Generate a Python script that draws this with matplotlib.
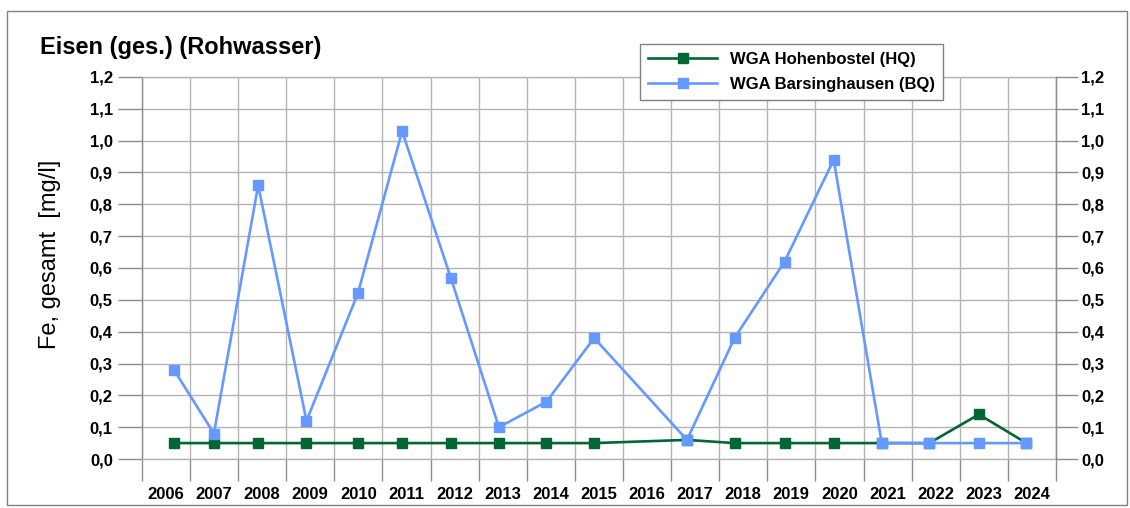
import datetime as dt
import matplotlib
matplotlib.use("Agg")
import matplotlib.pyplot as plt
import matplotlib.dates as mdates
from matplotlib.patches import Rectangle

plt.rcParams['font.family'] = ['Liberation Sans', 'DejaVu Sans']

# ---- data ----
dates_hq = ["2006-09-01", "2007-07-01", "2008-06-01", "2009-06-03", "2010-06-28",
            "2011-05-30", "2012-06-02", "2013-06-03", "2014-05-30", "2015-05-27",
            "2017-05-01", "2018-04-27", "2019-05-12", "2020-05-19", "2021-05-19",
            "2022-05-15", "2023-05-26", "2024-05-22"]
values_hq = [0.05, 0.05, 0.05, 0.05, 0.05, 0.05, 0.05, 0.05, 0.05, 0.05,
             0.06, 0.05, 0.05, 0.05, 0.05, 0.05, 0.14, 0.05]

dates_bq = ["2006-09-01", "2007-07-01", "2008-06-01", "2009-06-03", "2010-06-28",
            "2011-05-30", "2012-06-02", "2013-06-03", "2014-05-30", "2015-05-27",
            "2017-05-01", "2018-04-27", "2019-05-12", "2020-05-19", "2021-05-19",
            "2022-05-15", "2023-05-26", "2024-05-22"]
values_bq = [0.28, 0.08, 0.86, 0.12, 0.52, 1.03, 0.57, 0.10, 0.18, 0.38,
             0.06, 0.38, 0.62, 0.94, 0.05, 0.05, 0.05, 0.05]

label_hq = "WGA Hohenbostel (HQ)"
label_bq = "WGA Barsinghausen (BQ)"
title = "Eisen (ges.) (Rohwasser)"
ylabel = "Fe, gesamt  [mg/l]"
year_first, year_last = 2006, 2024
y_ticks = [0.0, 0.1, 0.2, 0.3, 0.4, 0.5, 0.6, 0.7, 0.8, 0.9, 1.0, 1.1, 1.2]

col_hq = "#006633"
col_bq = "#6699FF"
grid_col = "#b4b4b4"
tick_col = "#8c8c8c"

def to_dt(lst):
    return [dt.datetime.strptime(s, "%Y-%m-%d") for s in lst]

W, H = 1130, 508
fig = plt.figure(figsize=(W / 100, H / 100), dpi=100)

# outer frame
fig.patches.append(Rectangle((7 / W, 3 / H), (W - 10) / W, (H - 14) / H,
                             transform=fig.transFigure, fill=False,
                             edgecolor="#808080", linewidth=1.0))

ax = fig.add_axes([142 / W, 49 / H, 914 / W, 382 / H])
ax.set_xlim(dt.datetime(year_first, 1, 1), dt.datetime(year_last + 1, 1, 1))
ax.set_ylim(0, 1.2)

ax.plot(to_dt(dates_hq), values_hq, color=col_hq, lw=1.9, marker='s',
        markersize=7, label=label_hq, zorder=3)
ax.plot(to_dt(dates_bq), values_bq, color=col_bq, lw=1.9, marker='s',
        markersize=7, label=label_bq, zorder=4)

# x axis: gridlines at year boundaries, labels mid-year
ax.xaxis.set_major_locator(mdates.YearLocator())
ax.xaxis.set_major_formatter(plt.NullFormatter())
ax.xaxis.set_minor_locator(mdates.MonthLocator(bymonth=7, bymonthday=1))
ax.xaxis.set_minor_formatter(mdates.DateFormatter('%Y'))
ax.tick_params(axis='x', which='major', length=16, width=1, color=tick_col, direction='out')
ax.tick_params(axis='x', which='minor', length=0, pad=20, labelsize=12)
for t in ax.xaxis.get_minorticklabels():
    t.set_fontweight('bold')

ax.set_yticks(y_ticks)
ax.set_yticklabels([f"{v:.1f}".replace('.', ',') for v in y_ticks], fontweight='bold')
ax.tick_params(axis='y', which='major', length=17, width=1, color=tick_col,
               direction='out', pad=4, labelsize=12)

ax.grid(True, which='major', color=grid_col, linewidth=1)
ax.set_axisbelow(True)
for s in ax.spines.values():
    s.set_color(tick_col)
    s.set_linewidth(1)
ax.spines['top'].set_color(grid_col)
ax.spines['bottom'].set_color(grid_col)

ax2 = ax.twinx()
ax2.set_ylim(ax.get_ylim())
ax2.set_yticks(y_ticks)
ax2.set_yticklabels([f"{v:.1f}".replace('.', ',') for v in y_ticks], fontweight='bold')
ax2.tick_params(axis='y', length=16, width=1, color=tick_col, direction='out',
                pad=2, labelsize=12)
for s in ax2.spines.values():
    s.set_visible(False)
ax2.spines['right'].set_visible(True)
ax2.spines['right'].set_color(tick_col)

ax.set_ylabel(ylabel, fontsize=17)
ax.yaxis.set_label_coords(61 / W, 0.5, transform=fig.transFigure)

fig.text(40 / W, 1 - 47 / H, title, fontsize=17, fontweight='bold', va='center', ha='left')

leg = ax.legend(loc='upper left', bbox_to_anchor=(640 / W, 1 - 44 / H),
                bbox_transform=fig.transFigure, borderaxespad=0, fancybox=False,
                framealpha=1, edgecolor="#808080", handlelength=4.1,
                handletextpad=0.8, labelspacing=0.55, borderpad=0.5,
                prop={'weight': 'bold', 'size': 12})
leg.get_frame().set_linewidth(1)
leg.set_zorder(10)

fig.savefig("out.png", dpi=100)
